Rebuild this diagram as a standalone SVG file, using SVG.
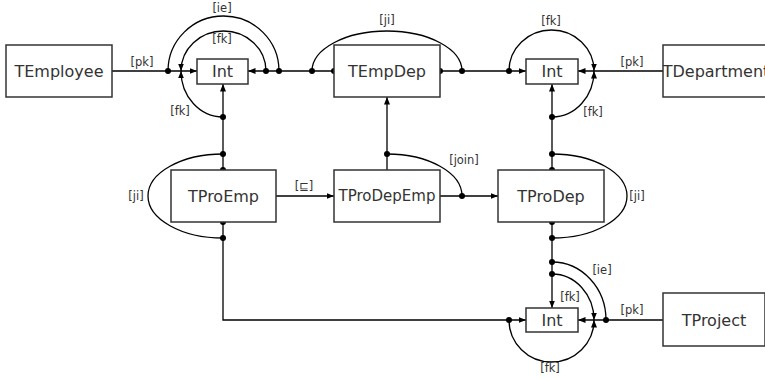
<svg xmlns="http://www.w3.org/2000/svg" width="765" height="380" viewBox="0 0 765 380">
  <style>
    .box rect { fill: #fff; stroke: #333; stroke-width: 1.5; }
    .box text { font-family: "DejaVu Sans", sans-serif; font-size: 16px; fill: #333; text-anchor: middle; dominant-baseline: central; }
    .edge { fill: none; stroke: #000; stroke-width: 1.3; }
    .arr { marker-end: url(#head); }
    .dot { fill: #000; }
    .lbl { font-family: "DejaVu Sans", sans-serif; font-size: 11.5px; fill: #333; text-anchor: middle; }
  </style>
  <defs>
    <marker id="head" markerUnits="userSpaceOnUse" markerWidth="8" markerHeight="6" refX="7.5" refY="3" orient="auto">
      <path d="M0,0 L7.5,3 L0,6 z" fill="#000"/>
    </marker>
  </defs>

  <!-- connectors -->
  <g id="connectors">
    <!-- top row -->
    <path class="edge arr" d="M112,71 L197,71"/>
    <path class="edge arr" d="M334,71 L248,71"/>
    <path class="edge arr" d="M440,71 L526,71"/>
    <path class="edge arr" d="M663,71 L578,71"/>
    <path class="edge" d="M168,71 A55.5,55 0 0 1 279,71"/>
    <path class="edge arr" d="M266,71 A42.5,40 0 0 0 181,71"/>
    <path class="edge arr" d="M223,117 A42,46 0 0 1 181,71"/>
    <path class="edge" d="M312,71 A75,40 0 0 1 462,71"/>
    <path class="edge arr" d="M509,71 A42.5,41 0 0 1 594,71"/>
    <path class="edge arr" d="M552,117 A42,46 0 0 0 594,71"/>

    <!-- verticals up -->
    <path class="edge arr" d="M223,170 L223,84"/>
    <path class="edge arr" d="M552,170 L552,84"/>
    <path class="edge arr" d="M387,170 L387,97"/>

    <!-- middle row -->
    <path class="edge arr" d="M276,196 L334,196"/>
    <path class="edge arr" d="M440,196 L498,196"/>
    <path class="edge" d="M223,154 A75,42 0 0 0 223,238"/>
    <path class="edge" d="M552,154 A75,42 0 0 1 552,238"/>
    <path class="edge" d="M387,154 A75,42 0 0 1 462,196"/>

    <!-- bottom -->
    <path class="edge arr" d="M552,222 L552,308"/>
    <path class="edge arr" d="M223,222 L223,320 L526,320"/>
    <path class="edge arr" d="M663,320 L578,320"/>
    <path class="edge" d="M552,262 A54,58 0 0 1 606,320"/>
    <path class="edge arr" d="M552,274 A42,46 0 0 1 594,320"/>
    <path class="edge arr" d="M509,320 A42.5,42 0 0 0 594,320"/>

    <!-- junction dots -->
    <g class="dot">
      <circle cx="168" cy="71" r="3"/>
      <circle cx="266" cy="71" r="3"/>
      <circle cx="279" cy="71" r="3"/>
      <circle cx="312" cy="71" r="3"/>
      <circle cx="334" cy="71" r="3"/>
      <circle cx="440" cy="71" r="3"/>
      <circle cx="462" cy="71" r="3"/>
      <circle cx="509" cy="71" r="3"/>
      <circle cx="223" cy="117" r="3"/>
      <circle cx="223" cy="154" r="3"/>
      <circle cx="223" cy="170" r="3"/>
      <circle cx="223" cy="222" r="3"/>
      <circle cx="223" cy="238" r="3"/>
      <circle cx="552" cy="117" r="3"/>
      <circle cx="552" cy="154" r="3"/>
      <circle cx="552" cy="170" r="3"/>
      <circle cx="552" cy="222" r="3"/>
      <circle cx="552" cy="238" r="3"/>
      <circle cx="387" cy="154" r="3"/>
      <circle cx="462" cy="196" r="3"/>
      <circle cx="552" cy="262" r="3"/>
      <circle cx="552" cy="274" r="3"/>
      <circle cx="509" cy="320" r="3"/>
      <circle cx="606" cy="320" r="3"/>
    </g>

    <!-- edge labels -->
    <text class="lbl" x="222" y="12">[ie]</text>
    <text class="lbl" x="222" y="43">[fk]</text>
    <text class="lbl" x="142" y="66">[pk]</text>
    <text class="lbl" x="180" y="115">[fk]</text>
    <text class="lbl" x="387" y="24">[ji]</text>
    <text class="lbl" x="551" y="25">[fk]</text>
    <text class="lbl" x="632" y="66">[pk]</text>
    <text class="lbl" x="593" y="116">[fk]</text>
    <text class="lbl" x="136" y="200">[ji]</text>
    <text class="lbl" x="304" y="190">[⊑]</text>
    <text class="lbl" x="464" y="164">[join]</text>
    <text class="lbl" x="637" y="200">[ji]</text>
    <text class="lbl" x="602" y="274">[ie]</text>
    <text class="lbl" x="570" y="301">[fk]</text>
    <text class="lbl" x="632" y="314">[pk]</text>
    <text class="lbl" x="550" y="372">[fk]</text>
  </g>

  <!-- nodes -->
  <g id="TEmployee" class="box"><rect x="6" y="45" width="106" height="52"/><text x="59" y="71">TEmployee</text></g>
  <g id="IntEmp" class="box"><rect x="197" y="59" width="51" height="25"/><text x="222.5" y="71.5">Int</text></g>
  <g id="TEmpDep" class="box"><rect x="334" y="45" width="106" height="52"/><text x="387" y="71">TEmpDep</text></g>
  <g id="IntDep" class="box"><rect x="526" y="59" width="52" height="25"/><text x="552" y="71.5">Int</text></g>
  <g id="TDepartment" class="box"><rect x="663" y="45" width="110" height="52"/><text x="716" y="71">TDepartment</text></g>
  <g id="TProEmp" class="box"><rect x="171" y="170" width="105" height="52"/><text x="223.5" y="196">TProEmp</text></g>
  <g id="TProDepEmp" class="box"><rect x="334" y="170" width="106" height="52"/><text x="387" y="196" style="font-size:15px">TProDepEmp</text></g>
  <g id="TProDep" class="box"><rect x="498" y="170" width="106" height="52"/><text x="551" y="196">TProDep</text></g>
  <g id="IntPro" class="box"><rect x="526" y="308" width="52" height="24"/><text x="552" y="320">Int</text></g>
  <g id="TProject" class="box"><rect x="663" y="293" width="102" height="53"/><text x="714" y="320">TProject</text></g>
</svg>
